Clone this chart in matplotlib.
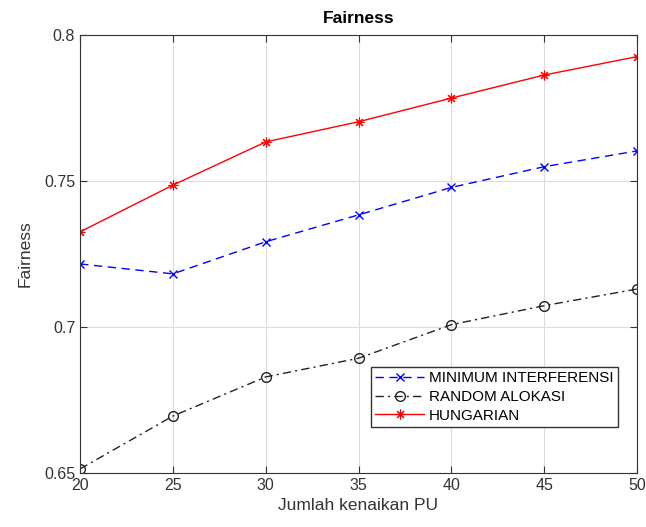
import numpy as np
import matplotlib.pyplot as plt

plt.rcParams['font.family'] = ['Liberation Sans', 'DejaVu Sans']

# data
jumlah_pu = [20, 25, 30, 35, 40, 45, 50]
min_interferensi = [0.7216, 0.7182, 0.7292, 0.7384, 0.7478, 0.7549, 0.7603]
random_alokasi = [0.6514, 0.6695, 0.6829, 0.6893, 0.7008, 0.7073, 0.7130]
hungarian = [0.7326, 0.7486, 0.7634, 0.7703, 0.7784, 0.7863, 0.7926]

fig = plt.figure(figsize=(6.46, 5.27), dpi=100)
ax = fig.add_axes([0.124, 0.1025, 0.862, 0.831])

ax.plot(jumlah_pu, min_interferensi, color='blue', linestyle=(0, (6, 4)), linewidth=1,
        marker='x', markersize=6, markeredgewidth=1, label='MINIMUM INTERFERENSI')
ax.plot(jumlah_pu, random_alokasi, color='#222222', linestyle=(0, (6, 3, 1.5, 3)), linewidth=1,
        marker='o', markersize=7, markerfacecolor='none', markeredgewidth=1, label='RANDOM ALOKASI')
ax.plot(jumlah_pu, hungarian, color='red', linestyle='-', linewidth=1,
        marker=(8, 2, 0), markersize=7, markeredgewidth=0.8, label='HUNGARIAN')

ax.set_xlim(20, 50)
ax.set_ylim(0.65, 0.8)
ax.set_xticks([20, 25, 30, 35, 40, 45, 50])
ax.set_yticks([0.65, 0.7, 0.75, 0.8])
ax.set_yticklabels(['0.65', '0.7', '0.75', '0.8'])
ax.grid(True, color='#dddddd', linewidth=0.8)
ax.tick_params(direction='in', top=True, right=True, labelsize=11.5, colors='#333333', length=5)
for s in ax.spines.values():
    s.set_color('#333333')

ax.set_title('Fairness', fontsize=12.5, fontweight='bold', pad=9)
ax.set_xlabel('Jumlah kenaikan PU', fontsize=12.5, color='#333333')
ax.set_ylabel('Fairness', fontsize=12.5, color='#333333', labelpad=8)

leg = ax.legend(loc='lower right', bbox_to_anchor=(0.98, 0.087), fontsize=11,
                frameon=True, fancybox=False, edgecolor='#333333', framealpha=1,
                handlelength=3.2, borderpad=0.3, labelspacing=0.3, handletextpad=0.3)
leg.get_frame().set_linewidth(1)

fig.savefig('out.png', dpi=100)
